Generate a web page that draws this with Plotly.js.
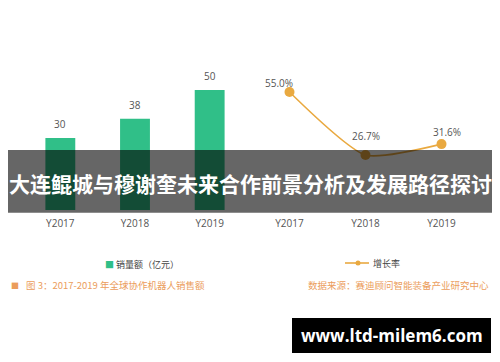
<!DOCTYPE html>
<html>
<head>
<meta charset="utf-8">
<script src="https://cdn.plot.ly/plotly-3.0.1.min.js"></script>
<style>html,body{margin:0;padding:0;background:#fff;}#chart{width:500px;height:362px;}</style>
</head>
<body>
<div id="chart"></div>
<script>
// ---- data ----
var categories = ['Y2017', 'Y2018', 'Y2019'];
var salesValues = [30, 38, 50];          // 销量额（亿元）
var growthValues = [55.0, 26.7, 31.6];   // 增长率 (%)
var salesName = '销量额（亿元）';
var growthName = '增长率';
var titleText = '大连鲲城与穆谢奎未来合作前景分析及发展路径探讨';
var noteLeft = '图 3：2017-2019 年全球协作机器人销售额';
var noteRight = '数据来源：赛迪顾问智能装备产业研究中心';
var watermark = 'www.ltd-milem6.com';

// ---- styles ----
var green = '#30bf88';
var orange = '#e9a940';
var noteColor = '#eb9d5c';
var cjk = '"Noto Sans CJK SC", "Open Sans", sans-serif';
var growthLabelShift = [[-11, 9], [0, 19], [5, 12]];

var W = 500, H = 362;
function px(x) { return x / W; }
function py(y) { return 1 - y / H; }

var traces = [
  {
    type: 'bar', x: categories, y: salesValues, xaxis: 'x', yaxis: 'y', name: salesName,
    marker: { color: green }, width: 0.4, showlegend: false, hoverinfo: 'skip'
  },
  {
    type: 'scatter', mode: 'lines+markers', x: categories, y: growthValues,
    xaxis: 'x2', yaxis: 'y2', name: growthName,
    line: { color: orange, width: 1.6, shape: 'spline', smoothing: 0.6 },
    marker: { color: orange, size: 10 },
    showlegend: false, hoverinfo: 'skip'
  }
];

var annotations = [];
salesValues.forEach(function (v, i) {
  annotations.push({
    x: categories[i], y: v, xref: 'x', yref: 'y', text: String(v),
    showarrow: false, xanchor: 'center', yanchor: 'bottom', yshift: 5,
    font: { family: 'Open Sans, sans-serif', size: 10, color: '#555' }
  });
});
growthValues.forEach(function (v, i) {
  annotations.push({
    x: categories[i], y: v, xref: 'x2', yref: 'y2', text: v.toFixed(1) + '%',
    showarrow: false, xanchor: 'center', yanchor: 'middle',
    xshift: growthLabelShift[i][0], yshift: growthLabelShift[i][1],
    font: { family: 'Open Sans, sans-serif', size: 10, color: '#555' }
  });
});
// banner title
annotations.push({
  x: 0.5, y: py(183), xref: 'paper', yref: 'paper', xanchor: 'center', yanchor: 'middle',
  text: '<b>' + titleText + '</b>',
  showarrow: false, font: { family: cjk, size: 21, color: '#ffffff' }
});
// legends
annotations.push({
  x: px(103), y: py(264), xref: 'paper', yref: 'paper', xanchor: 'left', yanchor: 'middle',
  text: '<span style="color:' + green + '">■</span> ' + salesName, showarrow: false,
  font: { family: cjk, size: 9, color: '#444' }
});
annotations.push({
  x: px(371), y: py(263), xref: 'paper', yref: 'paper', xanchor: 'left', yanchor: 'middle',
  text: growthName, showarrow: false, font: { family: cjk, size: 9, color: '#444' }
});
// footnotes
annotations.push({
  x: px(9), y: py(285), xref: 'paper', yref: 'paper', xanchor: 'left', yanchor: 'middle',
  text: '■', showarrow: false, font: { family: cjk, size: 8, color: noteColor }
});
annotations.push({
  x: px(24), y: py(285), xref: 'paper', yref: 'paper', xanchor: 'left', yanchor: 'middle',
  text: noteLeft, showarrow: false, font: { family: cjk, size: 9.5, color: noteColor }
});
annotations.push({
  x: px(306), y: py(285), xref: 'paper', yref: 'paper', xanchor: 'left', yanchor: 'middle',
  text: noteRight, showarrow: false, font: { family: cjk, size: 9.5, color: noteColor }
});
// watermark
annotations.push({
  x: px(391.5), y: py(335.5), xref: 'paper', yref: 'paper', xanchor: 'center', yanchor: 'middle',
  text: '<b>' + watermark + '</b>', showarrow: false,
  font: { family: 'Open Sans, sans-serif', size: 17, color: '#ffffff' }
});

var axisCommon = {
  type: 'category', range: [-0.5, 2.5], showgrid: false, zeroline: false,
  showline: false, ticks: '', ticklabelstandoff: 6,
  tickfont: { family: 'Open Sans, sans-serif', size: 10, color: '#555' }, fixedrange: true
};
var yCommon = { visible: false, showgrid: false, zeroline: false, fixedrange: true };

var layout = {
  width: W, height: H, margin: { l: 0, r: 0, t: 0, b: 0 },
  paper_bgcolor: '#ffffff', plot_bgcolor: 'rgba(0,0,0,0)', showlegend: false,
  xaxis: Object.assign({}, axisCommon, { domain: [px(23), px(247)], anchor: 'y' }),
  yaxis: Object.assign({}, yCommon, { domain: [py(210), py(60)], range: [0, 62.5], anchor: 'x' }),
  xaxis2: Object.assign({}, axisCommon, { domain: [px(251.5), px(479.5)], anchor: 'y2' }),
  yaxis2: Object.assign({}, yCommon, { domain: [py(210), py(60)], range: [2.0, 69.4], anchor: 'x2' }),
  shapes: [
    // line legend symbol
    { type: 'line', xref: 'paper', yref: 'paper', x0: px(345), x1: px(369), y0: py(263), y1: py(263),
      line: { color: orange, width: 1.6 } },
    { type: 'circle', xref: 'paper', yref: 'paper', x0: px(355.5), x1: px(360.5), y0: py(265.5), y1: py(260.5),
      fillcolor: orange, line: { width: 0 } },
    // banner
    { type: 'rect', xref: 'paper', yref: 'paper', x0: px(8), x1: px(492), y0: py(212.7), y1: py(150),
      fillcolor: 'rgba(0,0,0,0.6)', line: { width: 0 }, layer: 'above' },
    // watermark box
    { type: 'rect', xref: 'paper', yref: 'paper', x0: px(292), x1: px(491), y0: py(353), y1: py(318),
      fillcolor: '#000000', line: { width: 0 }, layer: 'above' }
  ],
  annotations: annotations,
  hovermode: false
};

Plotly.newPlot('chart', traces, layout, { displayModeBar: false, staticPlot: true });
</script>
</body>
</html>
